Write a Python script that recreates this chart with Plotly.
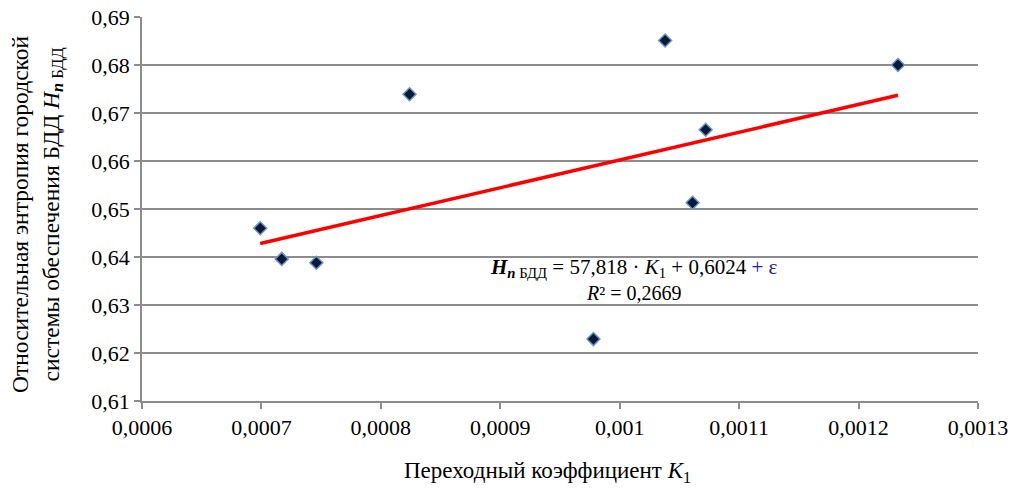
import plotly.graph_objects as go

# Data
k1_values = [0.000699, 0.000717, 0.000746, 0.000824, 0.000978, 0.001038, 0.001061, 0.001072, 0.001233]
h_values = [0.6460, 0.6396, 0.6388, 0.6739, 0.6229, 0.6851, 0.6513, 0.6665, 0.6800]
slope = 57.818
intercept = 0.6024
r_squared = 0.2669
x_ticks = [0.0006, 0.0007, 0.0008, 0.0009, 0.0010, 0.0011, 0.0012, 0.0013]
y_ticks = [0.61, 0.62, 0.63, 0.64, 0.65, 0.66, 0.67, 0.68, 0.69]

FONT = "Liberation Serif"
GRID = "#8c8c8c"

def fmt_num(v, dec):
    return f"{v:.{dec}f}".replace(".", ",")

trend_x = [min(k1_values), max(k1_values)]
trend_y = [slope * x + intercept for x in trend_x]

fig = go.Figure()
fig.add_trace(go.Scatter(
    x=trend_x, y=trend_y, mode="lines",
    line=dict(color="#ff0000", width=3.5), showlegend=False, hoverinfo="skip"))
fig.add_trace(go.Scatter(
    x=k1_values, y=h_values, mode="markers",
    marker=dict(symbol="diamond", size=10, color="#0a1a36",
                line=dict(color="#6b93c8", width=1.5)),
    showlegend=False))

fig.update_layout(
    width=1014, height=488,
    margin=dict(l=142, r=36, t=17, b=87, pad=0, autoexpand=False),
    paper_bgcolor="white", plot_bgcolor="white",
    separators=", ",
    font=dict(family=FONT, size=22, color="black"),
    xaxis=dict(range=[0.0006, 0.0013], tickvals=x_ticks, automargin=False,
               ticktext=[("%.4f" % v).rstrip("0").replace(".", ",") for v in x_ticks],
               showgrid=False, zeroline=False,
               showline=True, linecolor=GRID, linewidth=1.5,
               ticks="outside", ticklen=6, tickcolor=GRID, tickwidth=1.5,
               tickfont=dict(family=FONT, size=22, color="black")),
    yaxis=dict(range=[0.61, 0.69], tickvals=y_ticks, automargin=False,
               ticktext=[fmt_num(v, 2) for v in y_ticks],
               showgrid=True, gridcolor=GRID, gridwidth=1.5, zeroline=False,
               showline=True, linecolor=GRID, linewidth=1.5,
               ticks="outside", ticklen=6, tickcolor=GRID, tickwidth=1.5,
               tickfont=dict(family=FONT, size=22, color="black")),
)

# Y-axis title
fig.add_annotation(
    xref="paper", yref="paper", x=-0.1256, y=0.487,
    xanchor="center", yanchor="middle", textangle=-90, showarrow=False,
    text="Относительная энтропия городской<br>системы обеспечения БДД <i>H</i><sub><b><i>n</i></b> БДД</sub>",
    font=dict(family=FONT, size=23.5, color="black"))

# X-axis title
fig.add_annotation(
    xref="paper", yref="paper", x=0.4845, y=-0.186,
    xanchor="center", yanchor="middle", showarrow=False,
    text="Переходный коэффициент <i>K</i><sub>1</sub>",
    font=dict(family=FONT, size=23, color="black"))

# Regression equation
fig.add_annotation(
    xref="paper", yref="paper", x=0.5885, y=0.346,
    xanchor="center", yanchor="middle", showarrow=False,
    text=("<b><i>H</i></b><sub><b><i>n</i></b> БДД</sub> = " + fmt_num(slope, 3)
          + " · <i>K</i><sub>1</sub> + " + fmt_num(intercept, 4)
          + " <span style='color:#2020a0'>+ ε</span>"),
    font=dict(family=FONT, size=21, color="black"))
fig.add_annotation(
    xref="paper", yref="paper", x=0.5885, y=0.281,
    xanchor="center", yanchor="middle", showarrow=False,
    text="<i>R</i>² = " + fmt_num(r_squared, 4),
    font=dict(family=FONT, size=20, color="black"))

fig.write_html("out.html", config={"displayModeBar": False},
               post_script="document.body.style.margin='0';")
